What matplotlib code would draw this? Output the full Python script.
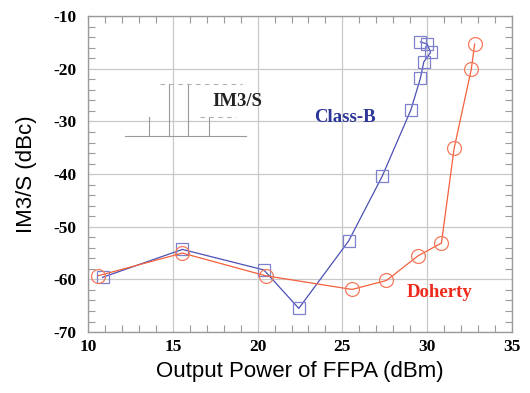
import matplotlib
matplotlib.use('Agg')
import matplotlib.pyplot as plt
from matplotlib.ticker import MultipleLocator

plt.rcParams['axes.unicode_minus'] = False

# Class-B amplifier, IM3/S vs output power
classb_x = [10.86, 15.57, 20.37, 22.43, 25.37, 27.35, 29.04, 29.6, 29.8, 30.2, 30.0, 29.6]
classb_y = [-59.6, -54.3, -58.2, -65.5, -52.7, -40.4, -27.8, -21.8, -18.7, -16.9, -15.3, -14.9]

# Doherty amplifier
doherty_x = [10.6, 15.57, 20.47, 25.57, 27.6, 29.47, 30.84, 31.59, 32.6, 32.8]
doherty_y = [-59.3, -55.0, -59.3, -61.9, -60.2, -55.5, -53.1, -35.1, -20.1, -15.3]

# little spectrum sketch next to the "IM3/S" label
spec_base_x = [12.18, 19.34]
spec_base_y = -32.77
spec_lines_x = [13.6, 14.78, 15.9, 17.14]
spec_lines_top = [-29.2, -22.8, -22.8, -29.2]
spec_dash = [(14.24, 19.1, -22.8), (16.6, 18.75, -29.2)]

xticks = [10, 15, 20, 25, 30, 35]
yticks = [-70, -60, -50, -40, -30, -20, -10]

fig = plt.figure(figsize=(5.30, 3.93), dpi=100)
ax = fig.add_axes([0.166, 0.155, 0.800, 0.804])

ax.grid(True, color='#c8c8c8', lw=0.9)
ax.set_axisbelow(True)

gray = '#9a9a9a'
ax.plot(spec_base_x, [spec_base_y] * 2, color=gray, lw=0.8)
for sx, st in zip(spec_lines_x, spec_lines_top):
    ax.plot([sx, sx], [spec_base_y, st], color=gray, lw=0.8)
for x0, x1, yy in spec_dash:
    ax.plot([x0, x1], [yy, yy], color='#b0b0b0', lw=0.8, dashes=(4, 4))

ax.plot(classb_x, classb_y, color='#4b50b4', lw=0.9, marker='s', ms=9,
        mfc='none', mec='#7d80cc', mew=0.9)
ax.plot(doherty_x, doherty_y, color='#f4603c', lw=0.9, marker='o', ms=10,
        mfc='none', mec='#f47a5c', mew=0.9)

serif = ['Liberation Serif', 'DejaVu Serif']
ax.text(17.35, -26.3, 'IM3/S', family=serif, weight='bold', fontsize=13.5,
        color='#222222', va='center')
ax.text(23.35, -29.2, 'Class-B', family=serif, weight='bold', fontsize=13.5,
        color='#2c3598', va='center')
ax.text(28.8, -62.5, 'Doherty', family=serif, weight='bold', fontsize=13.5,
        color='#ee2a1c', va='center')

ax.set_xlim(10, 35)
ax.set_ylim(-70, -10)
ax.set_xticks(xticks)
ax.set_yticks(yticks)
ax.xaxis.set_minor_locator(MultipleLocator(1))
ax.yaxis.set_minor_locator(MultipleLocator(2))
ax.tick_params(which='both', direction='in', top=True, right=True, color=gray)
ax.tick_params(which='major', length=0)
ax.tick_params(axis='y', which='major', pad=8)
ax.tick_params(axis='x', which='major', pad=5)
ax.tick_params(which='minor', length=5, width=0.8)
for lab in ax.get_xticklabels() + ax.get_yticklabels():
    lab.set_family(serif)
    lab.set_weight('bold')
    lab.set_fontsize(12.5)
for sp in ax.spines.values():
    sp.set_color(gray)
    sp.set_linewidth(1.0)

sans = ['Liberation Sans', 'DejaVu Sans']
ax.set_xlabel('Output Power of FFPA (dBm)', family=sans, fontsize=16, labelpad=4)
ax.set_ylabel('IM3/S (dBc)', family=sans, fontsize=16, labelpad=12)

fig.savefig('out.png', dpi=100)
